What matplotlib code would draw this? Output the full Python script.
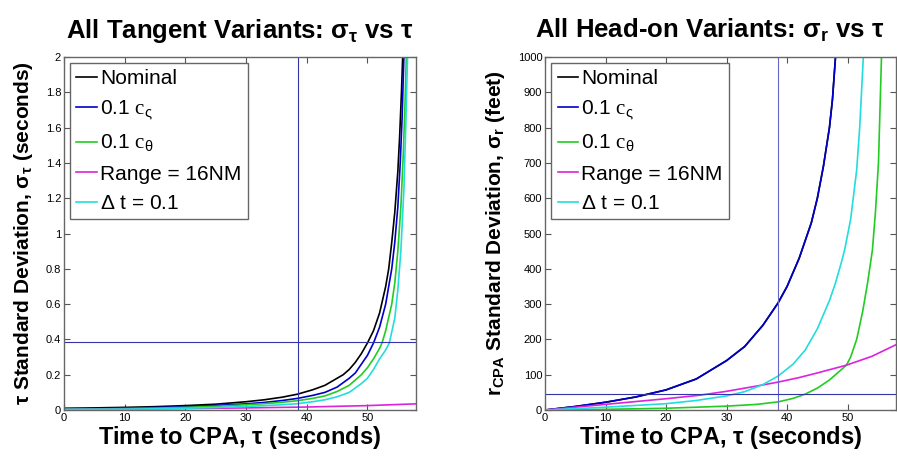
import matplotlib.pyplot as plt
import numpy as np

plt.rcParams['font.family'] = ['Liberation Sans', 'DejaVu Sans']
plt.rcParams['mathtext.default'] = 'regular'
plt.rcParams['mathtext.fontset'] = 'custom'
plt.rcParams['mathtext.rm'] = 'Liberation Serif'

# ---- tangent case: sigma_tau (seconds) vs tau ----
t_nom = [0, 5, 10, 15, 20, 25, 30, 33, 36, 38.5, 41, 43, 45, 46, 47, 48, 49, 50, 51, 52, 53,
         53.5, 54, 54.5, 55, 55.3, 55.6, 55.8, 56.0]
s_nom = [0.01, 0.012, 0.015, 0.019, 0.025, 0.033, 0.047, 0.058, 0.073, 0.09, 0.115, 0.14, 0.18,
         0.2, 0.23, 0.27, 0.32, 0.38, 0.45, 0.55, 0.7, 0.8, 0.95, 1.12, 1.35, 1.55, 1.8, 2.0, 2.3]
t_cz = [0, 5, 10, 15, 20, 25, 30, 33, 36, 38.5, 41, 43, 45, 47, 48, 49, 50, 51, 52, 53, 54,
        54.5, 55, 55.4, 55.7, 56.0, 56.2]
s_cz = [0.005, 0.007, 0.01, 0.014, 0.019, 0.026, 0.035, 0.043, 0.054, 0.066, 0.083, 0.1, 0.13,
        0.18, 0.21, 0.26, 0.31, 0.38, 0.47, 0.6, 0.8, 0.95, 1.15, 1.4, 1.65, 2.0, 2.3]
t_cth = [0, 5, 10, 15, 20, 25, 30, 33, 36, 38.5, 41, 43, 45, 47, 49, 50, 51, 52, 52.4, 53, 54,
         54.5, 55, 55.5, 55.9, 56.2, 56.4, 56.6]
s_cth = [0.005, 0.006, 0.008, 0.011, 0.015, 0.021, 0.03, 0.036, 0.044, 0.053, 0.066, 0.08, 0.105,
         0.14, 0.2, 0.24, 0.29, 0.35, 0.38, 0.45, 0.6, 0.72, 0.9, 1.15, 1.45, 1.75, 2.0, 2.3]
t_rng = [0, 10, 20, 30, 40, 50, 58]
s_rng = [0.003, 0.005, 0.008, 0.012, 0.017, 0.025, 0.035]
t_dt = [0, 5, 10, 15, 20, 25, 30, 33, 36, 38.5, 41, 43, 45, 47, 49, 50, 51, 52, 53, 53.6, 54.5,
        55, 55.5, 56.0, 56.3, 56.6, 56.8]
s_dt = [0.003, 0.004, 0.005, 0.007, 0.01, 0.014, 0.02, 0.025, 0.03, 0.036, 0.047, 0.058, 0.075,
        0.1, 0.15, 0.18, 0.23, 0.29, 0.34, 0.38, 0.52, 0.68, 0.9, 1.25, 1.6, 2.0, 2.3]

# ---- head-on case: sigma_r (feet) vs tau ----
h_cz_t = [0, 5, 10, 15, 20, 25, 30, 33, 36, 38.5, 40, 42, 44, 45, 46, 47, 47.5, 48, 48.3]
h_cz = [0, 10, 22, 37, 57, 88, 140, 180, 240, 303, 350, 430, 530, 600, 690, 800, 880, 1000, 1080]
h_dt_t = [0, 5, 10, 15, 20, 25, 30, 33, 36, 38.5, 41, 43, 45, 47, 48, 49, 49.5, 50.5, 51.5, 52,
          52.6, 52.8]
h_dt = [0, 4, 8, 13, 18, 27, 40, 52, 72, 96, 130, 170, 230, 310, 360, 420, 453, 540, 680, 800,
        1000, 1080]
h_cth_t = [0, 10, 20, 30, 35, 38.5, 41, 43, 45, 47, 48, 49, 49.8, 50.5, 51.5, 52.5, 53.3, 54.1,
           54.6, 55.1, 55.6, 55.8]
h_cth = [0, 2, 5, 11, 16, 23, 33, 45, 62, 85, 100, 115, 127, 150, 200, 280, 360, 453, 560, 700,
         1000, 1080]
h_rng_t = [0, 5, 10, 15, 20, 25.6, 30, 35, 38.5, 42, 45, 49.8, 54, 58]
h_rng = [0, 8, 16, 24, 32, 42, 53, 68, 79, 92, 105, 127, 152, 185]

t_mark = 38.5
tang_mark = 0.385
head_mark = 45

labels = ['Nominal', r'0.1 $\mathrm{c}_{\varsigma}$', r'0.1 $\mathrm{c}_{\theta}$',
          'Range = 16NM', r'$\Delta$ t = 0.1']
colors = ['black', '#0000cc', '#22cc22', '#dd22dd', '#22dddd']

fig = plt.figure(figsize=(8.97, 4.57), dpi=100)
ax1 = fig.add_axes([0.0713, 0.1028, 0.3925, 0.7725])
ax2 = fig.add_axes([0.6076, 0.1028, 0.3913, 0.7725])

ax1.plot(t_nom, s_nom, color=colors[0], lw=1.2, label=labels[0])
ax1.plot(t_cz, s_cz, color=colors[1], lw=1.2, label=labels[1])
ax1.plot(t_cth, s_cth, color=colors[2], lw=1.2, label=labels[2])
ax1.plot(t_rng, s_rng, color=colors[3], lw=1.2, label=labels[3])
ax1.plot(t_dt, s_dt, color=colors[4], lw=1.2, label=labels[4])
ax1.axvline(t_mark, color='#3333aa', lw=0.8)
ax1.axhline(tang_mark, color='#3333aa', lw=0.8)
ax1.set_xlim(0, 58)
ax1.set_ylim(0, 2)
ax1.set_yticks(np.arange(0, 2.01, 0.2))
ax1.set_yticklabels(['0', '0.2', '0.4', '0.6', '0.8', '1', '1.2', '1.4', '1.6', '1.8', '2'])
ax1.set_title(r'All Tangent Variants: $\sigma_{\tau}$ vs $\tau$', fontsize=18.5, fontweight='bold', pad=14)
ax1.set_xlabel(r'Time to CPA, $\tau$ (seconds)', fontsize=17, fontweight='bold', labelpad=1)
ax1.set_ylabel(r'$\tau$ Standard Deviation, $\sigma_{\tau}$ (seconds)', fontsize=15, fontweight='bold', labelpad=8)

ax2.plot(h_cz_t, h_cz, color=colors[0], lw=1.2, label=labels[0])
ax2.plot(h_cz_t, h_cz, color=colors[1], lw=1.2, label=labels[1])
ax2.plot(h_cth_t, h_cth, color=colors[2], lw=1.2, label=labels[2])
ax2.plot(h_rng_t, h_rng, color=colors[3], lw=1.2, label=labels[3])
ax2.plot(h_dt_t, h_dt, color=colors[4], lw=1.2, label=labels[4])
ax2.axvline(t_mark, color='#6666cc', lw=0.8)
ax2.axhline(head_mark, color='#3333aa', lw=0.8)
ax2.set_xlim(0, 58)
ax2.set_ylim(0, 1000)
ax2.set_yticks(np.arange(0, 1001, 100))
ax2.set_title(r'All Head-on Variants: $\sigma_{r}$ vs $\tau$', fontsize=18.5, fontweight='bold', pad=14, x=0.47)
ax2.set_xlabel(r'Time to CPA, $\tau$ (seconds)', fontsize=17, fontweight='bold', labelpad=1)
ax2.set_ylabel(r'$r_{CPA}$ Standard Deviation, $\sigma_{r}$ (feet)', fontsize=15, fontweight='bold', labelpad=8)

for ax in (ax1, ax2):
    ax.set_xticks([0, 10, 20, 30, 40, 50])
    ax.tick_params(direction='in', top=True, right=True, labelsize=8, length=4, pad=2, color='#555555')
    for sp in ax.spines.values():
        sp.set_color('#666666')
        sp.set_linewidth(1.0)
    leg = ax.legend(loc='upper left', fontsize=15, handlelength=1.0, handletextpad=0.15,
                    labelspacing=0.5, borderaxespad=0.3, borderpad=0.3, fancybox=False,
                    framealpha=1, edgecolor='#666666')
    leg.get_frame().set_linewidth(1.0)

fig.savefig('out.png', dpi=100)
